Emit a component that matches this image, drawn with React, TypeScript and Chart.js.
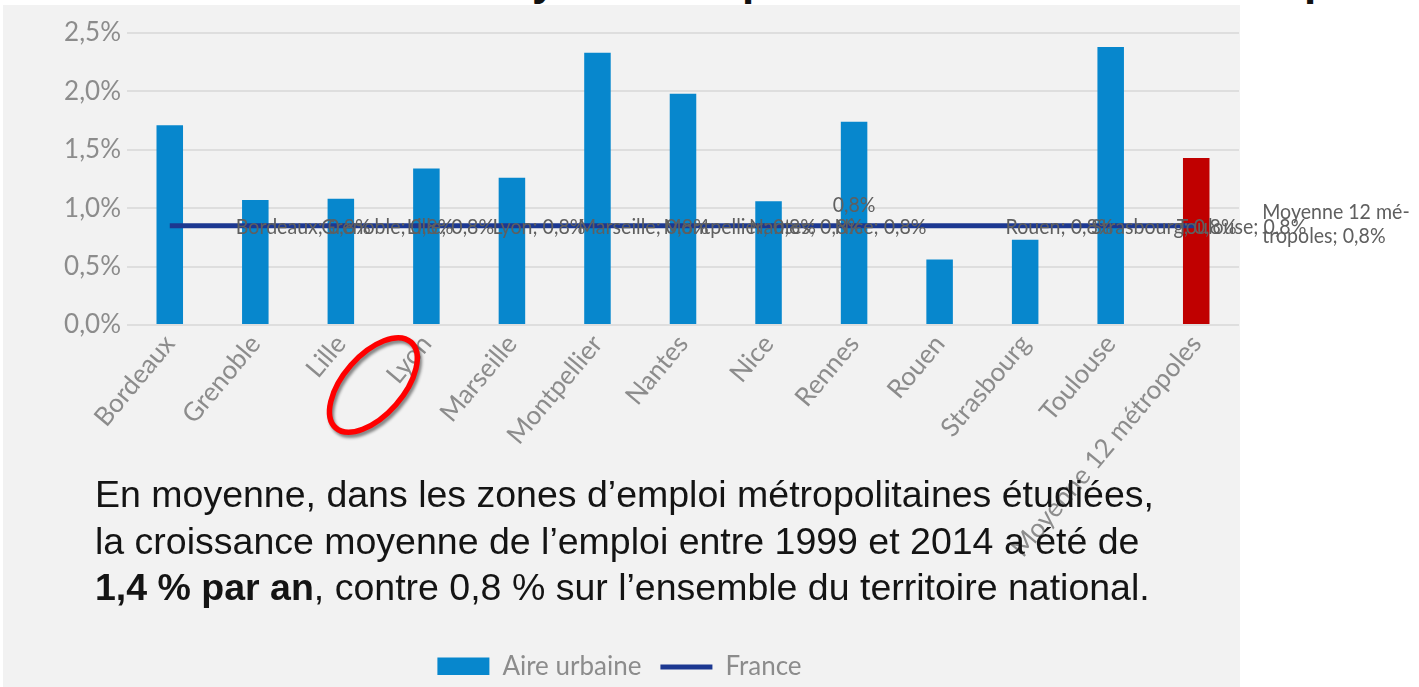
import React, { useEffect, useRef } from "react";
import { Chart, registerables } from "chart.js";

Chart.register(...registerables);

const categories = [
  "Bordeaux",
  "Grenoble",
  "Lille",
  "Lyon",
  "Marseille",
  "Montpellier",
  "Nantes",
  "Nice",
  "Rennes",
  "Rouen",
  "Strasbourg",
  "Toulouse",
  "Moyenne 12 métropoles",
];
const aireUrbaine = [1.71, 1.07, 1.08, 1.34, 1.26, 2.33, 1.98, 1.06, 1.74, 0.56, 0.73, 2.38, 1.43];
const france = [0.85, 0.85, 0.85, 0.85, 0.85, 0.85, 0.85, 0.85, 0.85, 0.85, 0.85, 0.85, 0.85];
const franceLabels: string[][] = [
  ["Bordeaux; 0,8%"],
  ["Grenoble; 0,8%"],
  ["Lille; 0,8%"],
  ["Lyon; 0,8%"],
  ["Marseille; 0,8%"],
  ["Montpellier; 0,8%"],
  ["Nantes; 0,8%"],
  ["Nice; 0,8%"],
  ["0,8%"],
  ["Rouen; 0,8%"],
  ["Strasbourg; 0,8%"],
  ["Toulouse; 0,8%"],
  ["Moyenne 12 mé-", "tropoles; 0,8%"],
];
const yTicks = [0, 0.5, 1, 1.5, 2, 2.5];

const BLUE = "#0787cd";
const RED = "#c00000";
const NAVY = "#1c3891";
const GRAY = "#8c8c8c";
const LABEL_GRAY = "#5f5f5f";
const FONT = "Lato, 'Open Sans', sans-serif";

const franceLabelPlugin = {
  id: "franceLabels",
  afterDatasetsDraw(chart: any) {
    const meta = chart.getDatasetMeta(1);
    const ctx = chart.ctx;
    const sx = 0.89;
    ctx.save();
    ctx.font = `22px ${FONT}`;
    ctx.fillStyle = LABEL_GRAY;
    ctx.textBaseline = "middle";
    const put = (t: string, x: number, y: number, align: CanvasTextAlign) => {
      ctx.save();
      ctx.translate(x, y);
      ctx.scale(sx, 1);
      ctx.textAlign = align;
      ctx.fillText(t, 0, 0);
      ctx.restore();
    };
    meta.data.forEach((pt: any, i: number) => {
      const lines = franceLabels[i];
      if (i === 8) {
        put(lines[0], pt.x, pt.y - 21, "center");
      } else if (lines.length === 2) {
        put(lines[0], pt.x + 66, pt.y - 14, "left");
        put(lines[1], pt.x + 66, pt.y + 10, "left");
      } else {
        put(lines[0], pt.x + 66, pt.y + 1, "left");
      }
    });
    ctx.restore();
  },
};

const ellipsePlugin = {
  id: "ellipseMark",
  afterDraw(chart: any) {
    const ctx = chart.ctx;
    const xs = chart.scales.x;
    const lx = xs.getPixelForValue(3);
    const cy = chart.chartArea.bottom + 60;
    ctx.save();
    ctx.translate(lx - 53, cy);
    ctx.rotate(-0.85);
    ctx.shadowColor = "rgba(0,0,0,0.45)";
    ctx.shadowOffsetX = 2;
    ctx.shadowOffsetY = 3;
    ctx.shadowBlur = 3;
    ctx.beginPath();
    ctx.ellipse(0, 0, 57, 30, 0, 0, Math.PI * 2);
    ctx.lineWidth = 5.5;
    ctx.strokeStyle = "#ff0000";
    ctx.stroke();
    ctx.restore();
  },
};

export default function App() {
  const ref = useRef<HTMLCanvasElement | null>(null);

  useEffect(() => {
    document.body.style.margin = "0";
    const canvas = ref.current;
    if (!canvas) return;
    const chart = new Chart(canvas, {
      type: "bar",
      data: {
        labels: categories,
        datasets: [
          {
            type: "bar",
            label: "Aire urbaine",
            data: aireUrbaine,
            backgroundColor: aireUrbaine.map((_, i) => (i === aireUrbaine.length - 1 ? RED : BLUE)),
            borderWidth: 0,
            barPercentage: 0.62,
            categoryPercentage: 0.5,
            order: 1,
          },
          {
            type: "line",
            label: "France",
            data: france,
            borderColor: NAVY,
            backgroundColor: NAVY,
            borderWidth: 5,
            pointRadius: 0,
            fill: false,
            tension: 0,
            order: 0,
          },
        ],
      },
      options: {
        responsive: false,
        animation: false,
        layout: { padding: { left: 0, right: 180, top: 33, bottom: 12 } },
        plugins: {
          tooltip: { enabled: false },
          title: { display: false },
          legend: {
            position: "bottom",
            maxHeight: 40,
            labels: {
              usePointStyle: true,
              pointStyleWidth: 52,
              boxHeight: 19,
              padding: 19,
              color: GRAY,
              font: { family: FONT, size: 26 },
              generateLabels: (ch: any) =>
                ch.data.datasets.map((ds: any, i: number) => ({
                  text: ds.label,
                  fillStyle: i === 0 ? BLUE : NAVY,
                  strokeStyle: i === 0 ? BLUE : NAVY,
                  lineWidth: i === 0 ? 0 : 5,
                  pointStyle: i === 0 ? "rect" : "line",
                  fontColor: GRAY,
                  hidden: false,
                  datasetIndex: i,
                })),
            },
          },
        },
        scales: {
          x: {
            grid: { display: false, drawTicks: false },
            border: { display: false },
            ticks: {
              color: GRAY,
              font: { family: FONT, size: 26 },
              maxRotation: 50,
              minRotation: 50,
              autoSkip: false,
              padding: 4,
            },
            afterFit: (scale: any) => {
              scale.height = 310;
            },
          },
          y: {
            min: 0,
            max: 2.5,
            grid: { color: "#dedede", lineWidth: 2, drawTicks: false },
            border: { display: false },
            afterBuildTicks: (scale: any) => {
              scale.ticks = yTicks.map((v) => ({ value: v }));
            },
            ticks: {
              color: GRAY,
              font: { family: FONT, size: 26 },
              padding: 6,
              callback: (v: any) => Number(v).toFixed(1).replace(".", ",") + "%",
            },
            afterFit: (scale: any) => {
              scale.width = 127;
            },
          },
        },
      },
      plugins: [franceLabelPlugin, ellipsePlugin],
    } as any);
    return () => chart.destroy();
  }, []);

  const titleFrag: React.CSSProperties = {
    position: "absolute",
    top: -42,
    fontFamily: "'Liberation Sans', Arial, sans-serif",
    fontWeight: 700,
    fontSize: 44,
    lineHeight: "44px",
    color: "#111",
  };

  return (
    <div style={{ position: "relative", width: 1419, height: 687, overflow: "hidden", background: "#ffffff" }}>
      <span style={{ ...titleFrag, left: 532 }}>y</span>
      <span style={{ ...titleFrag, left: 742 }}>p</span>
      <span style={{ ...titleFrag, left: 1304 }}>p</span>
      <div style={{ position: "absolute", left: 3, top: 5, width: 1237, height: 682, background: "#f2f2f2" }} />
      <canvas ref={ref} width={1419} height={687} style={{ position: "absolute", left: 0, top: 0 }} />
      <div
        style={{
          position: "absolute",
          left: 95,
          top: 471,
          fontFamily: "'Liberation Sans', Arial, sans-serif",
          fontSize: 37.5,
          lineHeight: "46.5px",
          color: "#141414",
          whiteSpace: "nowrap",
        }}
      >
        <div>En moyenne, dans les zones d’emploi métropolitaines étudiées,</div>
        <div>la croissance moyenne de l’emploi entre 1999 et 2014 a été de</div>
        <div>
          <b>1,4 % par an</b>, contre 0,8 % sur l’ensemble du territoire national.
        </div>
      </div>
    </div>
  );
}
